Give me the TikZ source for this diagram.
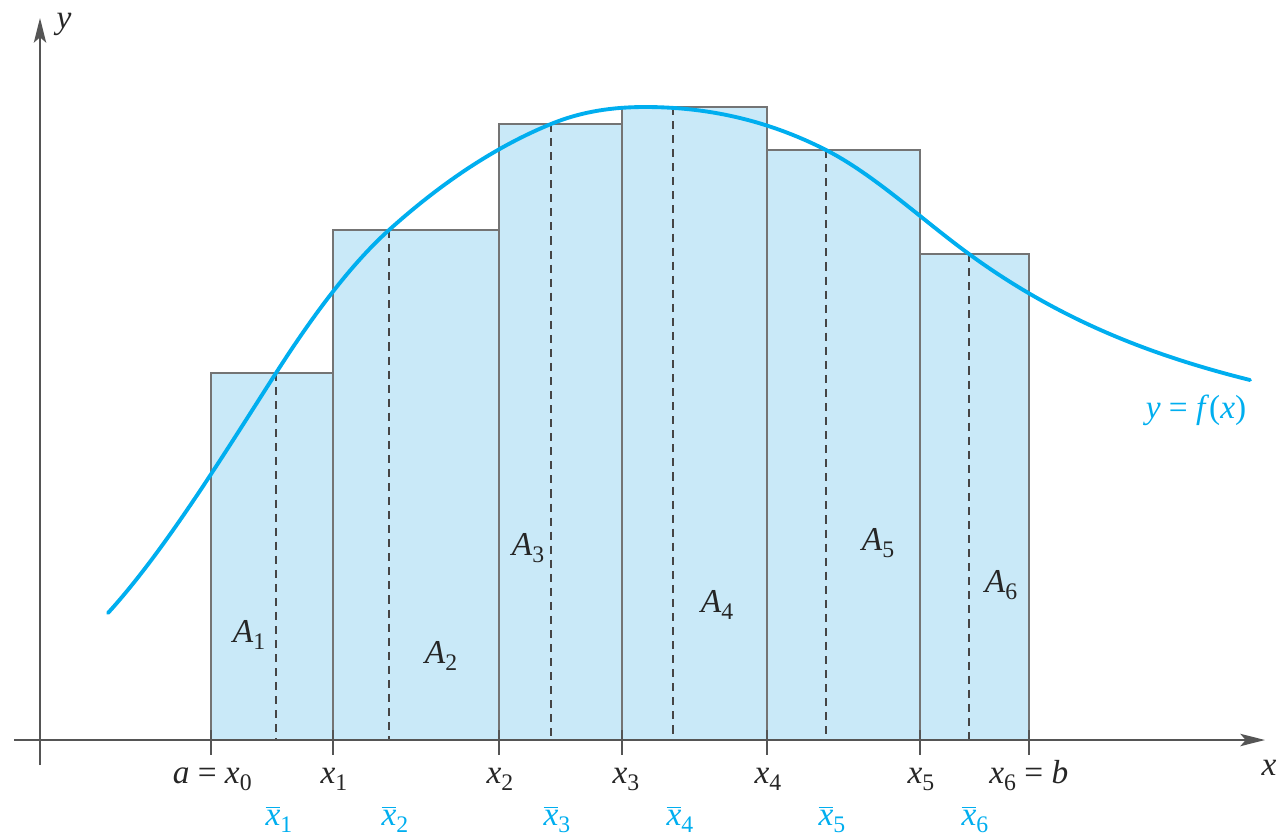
\documentclass[tikz,border=0pt]{standalone}
\usepackage{fontspec}
\setmainfont{Liberation Serif}
\newfontfamily\labfont{Liberation Serif}
\usetikzlibrary{arrows.meta}
\definecolor{fillb}{HTML}{C9E9F8}
\definecolor{curveb}{HTML}{00AEEF}
\definecolor{edgeg}{HTML}{747474}
\definecolor{axisg}{HTML}{555555}
\definecolor{dashg}{HTML}{454545}
\newcommand\mysub[1]{\raisebox{-0.5ex}{\fontsize{13.5}{14}\selectfont #1}}
\newcommand\myxi[1]{\textit{x}\mysub{#1}}
\newcommand\myxb[1]{$\overline{\hbox{\textit{x}}}$\mysub{#1}}
\newcommand\myAi[1]{\textit{A}\mysub{#1}}
\begin{document}
\begin{tikzpicture}[x=0.02cm,y=-0.02cm,
  rectbox/.style={fill=fillb, draw=edgeg, line width=1.3pt},
  midline/.style={draw=dashg, line width=1.2pt, dash pattern=on 4.6pt off 3.4pt},
  axisline/.style={draw=axisg, line width=1.3pt},
  tick/.style={draw=axisg, line width=1.3pt},
  lab/.style={font=\labfont\fontsize{19}{22}\selectfont, inner sep=0pt, anchor=base, text=black!85},
  blab/.style={lab, text=curveb},
  curve/.style={draw=curveb, line width=2.2pt, line cap=round}]
\useasboundingbox (0,0) rectangle (1288,836);
% rectangles
\draw[rectbox] (211,740) rectangle (333,373);
\draw[rectbox] (333,740) rectangle (499,230);
\draw[rectbox] (499,740) rectangle (622,124);
\draw[rectbox] (622,740) rectangle (767,107);
\draw[rectbox] (767,740) rectangle (920,150);
\draw[rectbox] (920,740) rectangle (1029,254);
% dashed lines
\foreach \x/\t in {276/373, 389/230, 551/124, 673/107, 826/150, 969/254}
  \draw[midline] (\x,\t) -- (\x,740);
% axes
\coordinate (xs) at (14,740);
\coordinate (xe) at (1265,740);
\coordinate (ys) at (40,765);
\coordinate (ye) at (40,18);
\draw[axisline, -{Stealth[length=14pt,width=7pt,inset=3pt]}] (xs) -- (xe);
\draw[axisline, -{Stealth[length=14pt,width=7pt,inset=3pt]}] (ys) -- (ye);
% ticks
\foreach \x in {211,333,499,622,767,920,1029}
  \draw[tick] (\x,730) -- (\x,755);
% curve
\draw[curve] (108,613)
  .. controls (164,551.4) and (220,460.4) .. (276,373)
  .. controls (313.67,314.2) and (351.33,263.9) .. (389,230)
  .. controls (443,181.4) and (497,146.1) .. (551,124)
  .. controls (582.33,111.15) and (613.67,107) .. (645,107)
  .. controls (705.33,107) and (765.67,119.2) .. (826,150)
  .. controls (873.67,174.3) and (921.33,219.2) .. (969,254)
  .. controls (1062.67,322.4) and (1156.33,356.6) .. (1250,380);
% axis labels
\node[lab] (ylab) at (64,28) {\textit{y}};
\node[lab] (xlab) at (1269,775) {\textit{x}};
\node[blab] (flab) at (1196,418) {\textit{y} = \textit{f}(\textit{x})};
% partition labels
\node[lab, anchor=base east] (l0) at (252,783) {\textit{a} = \myxi{0}};
\node[lab] (l1) at (334,783) {\myxi{1}};
\node[lab] (l2) at (500,783) {\myxi{2}};
\node[lab] (l3) at (626,783) {\myxi{3}};
\node[lab] (l4) at (768,783) {\myxi{4}};
\node[lab] (l5) at (921,783) {\myxi{5}};
\node[lab, anchor=base west] (l6) at (989,783) {\myxi{6} = \textit{b}};
% sample point labels
\node[blab] (m1) at (279,825) {\myxb{1}};
\node[blab] (m2) at (395,825) {\myxb{2}};
\node[blab] (m3) at (557,825) {\myxb{3}};
\node[blab] (m4) at (680,825) {\myxb{4}};
\node[blab] (m5) at (832,825) {\myxb{5}};
\node[blab] (m6) at (975,825) {\myxb{6}};
% area labels
\node[lab] (a1) at (249,642) {\myAi{1}};
\node[lab] (a2) at (441,663) {\myAi{2}};
\node[lab] (a3) at (528,555) {\myAi{3}};
\node[lab] (a4) at (717,612) {\myAi{4}};
\node[lab] (a5) at (878,550) {\myAi{5}};
\node[lab] (a6) at (1001,592) {\myAi{6}};
\end{tikzpicture}
\end{document}
